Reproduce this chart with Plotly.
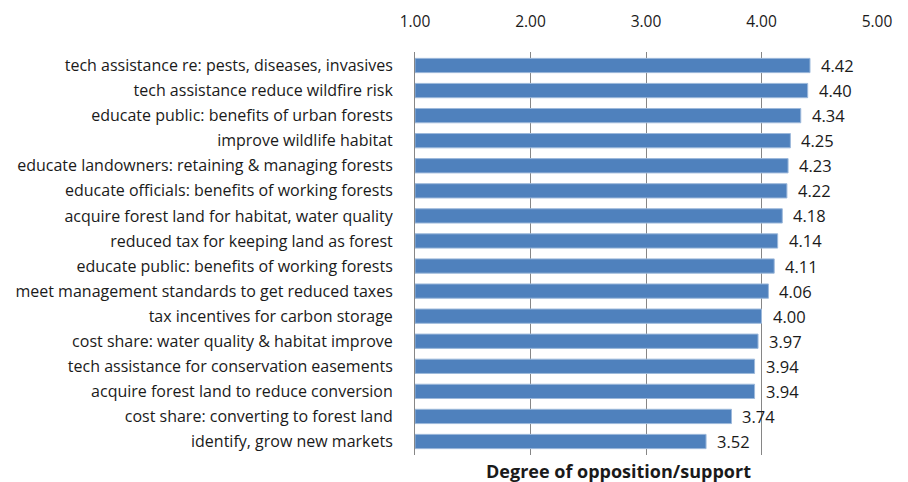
import plotly.graph_objects as go

categories = [
    "tech assistance re: pests, diseases, invasives",
    "tech assistance reduce wildfire risk",
    "educate public: benefits of urban forests",
    "improve wildlife habitat",
    "educate landowners: retaining & managing forests",
    "educate officials: benefits of working forests",
    "acquire forest land for habitat, water quality",
    "reduced tax for keeping land as forest",
    "educate public: benefits of working forests",
    "meet management standards to get reduced taxes",
    "tax incentives for carbon storage",
    "cost share: water quality & habitat improve",
    "tech assistance for conservation easements",
    "acquire forest land to reduce conversion",
    "cost share: converting to forest land",
    "identify, grow new markets",
]
scores = [4.42, 4.40, 4.34, 4.25, 4.23, 4.22, 4.18, 4.14, 4.11, 4.06,
          4.00, 3.97, 3.94, 3.94, 3.74, 3.52]
tick_vals = [1, 2, 3, 4, 5]
tick_text = ["1.00", "2.00", "3.00", "4.00", "5.00"]

font_family = "Open Sans, Liberation Sans, sans-serif"

fig = go.Figure(go.Bar(
    y=categories,
    x=[s - 1 for s in scores],
    base=1,
    orientation="h",
    width=0.57,
    marker=dict(color="#4F81BD", line=dict(color="#9DB9DB", width=1)),
))

# value labels to the right of each bar
for cat, s in zip(categories, scores):
    fig.add_annotation(
        x=s, y=cat, xref="x", yref="y", text=f"{s:.2f}",
        xanchor="left", yanchor="middle", xshift=9, yshift=0,
        showarrow=False, font=dict(size=16.5, color="#1a1a1a"),
    )

# page body adds an 8px margin, so the figure is sized/offset to compensate
fig.update_layout(
    width=900, height=474,
    margin=dict(l=407, r=31, t=44, b=27),
    plot_bgcolor="white", paper_bgcolor="white",
    font=dict(family=font_family, size=16, color="#1a1a1a"),
    showlegend=False,
    xaxis=dict(
        side="top", range=[1, 5], tickvals=tick_vals, ticktext=tick_text,
        showgrid=True, gridcolor="#868686", gridwidth=1, zeroline=False,
        ticks="outside", ticklen=18, tickcolor="rgba(0,0,0,0)",
        tickfont=dict(size=15.5), automargin=False,
    ),
    yaxis=dict(
        autorange="reversed", showline=True, linecolor="#868686",
        ticks="outside", ticklen=18, tickcolor="rgba(0,0,0,0)",
        tickfont=dict(size=16), automargin=False,
    ),
)

fig.add_annotation(
    text="<b>Degree of opposition/support</b>", x=0.44, y=-0.04,
    xref="paper", yref="paper", xanchor="center", yanchor="middle",
    showarrow=False, font=dict(size=18),
)

fig.write_html("out.html")
